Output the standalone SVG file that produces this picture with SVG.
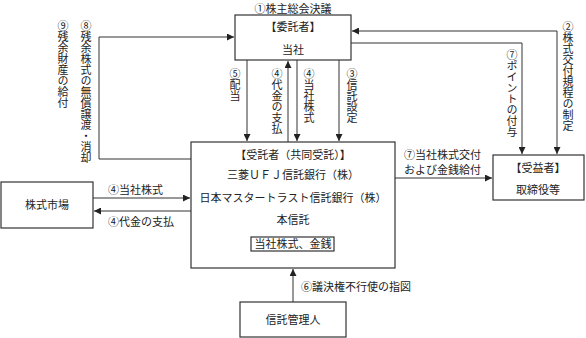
<svg xmlns="http://www.w3.org/2000/svg" width="586" height="338" viewBox="0 0 586 338">
<style>
text{font-family:"Noto Sans CJK JP","Noto Sans CJK SC",sans-serif;font-size:11px;fill:#222}
.c{text-anchor:middle}
.v{writing-mode:vertical-rl;glyph-orientation-vertical:0}
.box{fill:#fff;stroke:#333;stroke-width:1.2}
.ln{fill:none;stroke:#333;stroke-width:1}
</style>
<defs>
<marker id="ah" viewBox="0 0 10 10" refX="10" refY="5" markerWidth="7" markerHeight="7" orient="auto-start-reverse" markerUnits="userSpaceOnUse">
<path d="M0,0 L10,5 L0,10 Z" fill="#222"/>
</marker>
</defs>
<g id="connectors">
<path class="ln" d="M191,159 H99 V37 H234" marker-end="url(#ah)"/>
<path class="ln" d="M352,31 H557 V154" marker-start="url(#ah)" marker-end="url(#ah)"/>
<path class="ln" d="M351,43 H522 V154" marker-end="url(#ah)"/>
<path class="ln" d="M247,60 V141" marker-end="url(#ah)"/>
<path class="ln" d="M288,142 V61" marker-end="url(#ah)"/>
<path class="ln" d="M297,60 V141" marker-end="url(#ah)"/>
<path class="ln" d="M339,60 V141" marker-end="url(#ah)"/>
<path class="ln" d="M93,198 H190" marker-end="url(#ah)"/>
<path class="ln" d="M191,211 H94" marker-end="url(#ah)"/>
<path class="ln" d="M395,178 H492" marker-end="url(#ah)"/>
<path class="ln" d="M293,302 V269" marker-end="url(#ah)"/>
</g>
<g id="labels">
<text class="c" x="293" y="12.5">①株主総会決議</text>
<text class="v" x="86" y="20">⑧残余株式の無償譲渡・消却</text>
<text class="v" x="63" y="20">⑨残余財産の給付</text>
<text class="v" x="568" y="21">②株式交付規程の制定</text>
<text class="v" x="512" y="49">⑦ポイントの付与</text>
<text class="v" x="235" y="68">⑤配当</text>
<text class="v" x="277" y="68">④代金の支払</text>
<text class="v" x="309" y="68">④当社株式</text>
<text class="v" x="352" y="68">③信託設定</text>
<text x="108" y="194">④当社株式</text>
<text x="108" y="226">④代金の支払</text>
<text x="404" y="159">⑦当社株式交付</text>
<text x="404" y="174">および金銭給付</text>
<text x="301" y="291">⑥議決権不行使の指図</text>
</g>
<g id="itakusha">
<rect class="box" x="235" y="15" width="116" height="45"/>
<text class="c" x="293" y="31">【委託者】</text>
<text class="c" x="293" y="54">当社</text>
</g>
<g id="jutakusha">
<rect class="box" x="191" y="142" width="204" height="126"/>
<text class="c" x="293" y="159">【受託者（共同受託）】</text>
<text class="c" x="293" y="179">三菱ＵＦＪ信託銀行（株）</text>
<text class="c" x="293" y="202">日本マスタートラスト信託銀行（株）</text>
<text class="c" x="293" y="224">本信託</text>
<rect class="box" x="251" y="237" width="83" height="14" stroke-width="1"/>
<text class="c" x="293" y="248">当社株式、金銭</text>
</g>
<g id="juekisha">
<rect class="box" x="493" y="155" width="91" height="45"/>
<text class="c" x="538" y="172">【受益者】</text>
<text class="c" x="538" y="194">取締役等</text>
</g>
<g id="kabushikishijo">
<rect class="box" x="1" y="182" width="92" height="46"/>
<text class="c" x="47" y="209">株式市場</text>
</g>
<g id="shintakanrinin">
<rect class="box" x="240" y="302" width="106" height="35"/>
<text class="c" x="293" y="324">信託管理人</text>
</g>
</svg>
